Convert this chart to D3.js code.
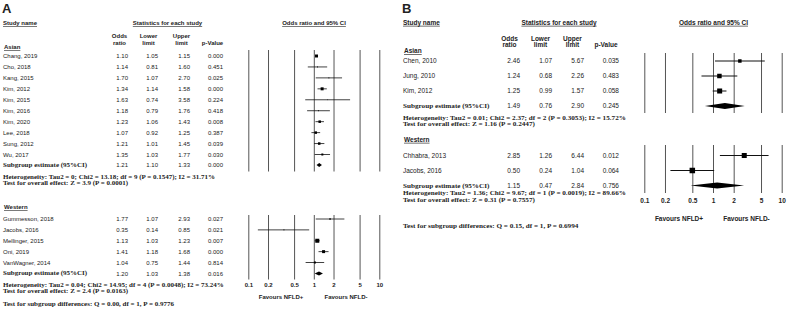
<!DOCTYPE html>
<html>
<head>
<meta charset="utf-8">
<script src="https://cdn.jsdelivr.net/npm/d3@7"></script>
<style>
  html, body { margin: 0; padding: 0; background: #fff; }
  svg { display: block; }
  .sans { font-family: "Liberation Sans", Arial, sans-serif; }
  .serif { font-family: "Liberation Serif", "Times New Roman", serif; font-weight: bold; }
</style>
</head>
<body>
<svg id="chart" width="787" height="316"></svg>
<script>
// ---- data: panel A ----
const aAsianStudies = ["Chang, 2019", "Cho, 2018", "Kang, 2015", "Kim, 2012", "Kim, 2015",
  "Kim, 2016", "Kim, 2020", "Lee, 2018", "Sung, 2012", "Wu, 2017"];
const aAsianOR = [1.10, 1.14, 1.70, 1.34, 1.63, 1.18, 1.23, 1.07, 1.21, 1.35];
const aAsianLower = [1.05, 0.81, 1.07, 1.14, 0.74, 0.79, 1.06, 0.92, 1.01, 1.03];
const aAsianUpper = [1.15, 1.60, 2.70, 1.58, 3.58, 1.76, 1.43, 1.25, 1.45, 1.77];
const aAsianP = ["0.000", "0.451", "0.025", "0.000", "0.224", "0.418", "0.008", "0.387", "0.039", "0.030"];
const aAsianWeight = [20, 2, 2, 20, 1, 2, 14, 14, 14, 9];
const aAsianSummary = [1.21, 1.10, 1.33, "0.000"];
const aAsianHet = "Heterogeneity: Tau2 = 0; Chi2 = 13.18; df = 9 (P = 0.1547); I2 = 31.71%";
const aAsianTest = "Test for overall effect: Z = 3.9 (P = 0.0001)";

const aWesternStudies = ["Gummesson, 2018", "Jacobs, 2016", "Mellinger, 2015", "Oni, 2019", "VanWagner, 2014"];
const aWesternOR = [1.77, 0.35, 1.13, 1.41, 1.04];
const aWesternLower = [1.07, 0.14, 1.03, 1.18, 0.75];
const aWesternUpper = [2.93, 0.85, 1.23, 1.68, 1.44];
const aWesternP = ["0.027", "0.021", "0.007", "0.000", "0.814"];
const aWesternWeight = [5, 2, 36, 20, 9];
const aWesternSummary = [1.20, 1.03, 1.38, "0.016"];
const aWesternHet = "Heterogeneity: Tau2 = 0.04; Chi2 = 14.95; df = 4 (P = 0.0048); I2 = 73.24%";
const aWesternTest = "Test for overall effect: Z = 2.4 (P = 0.0163)";
const aDiff = "Test for subgroup differences: Q = 0.00, df = 1, P = 0.9776";

// ---- data: panel B ----
const bAsianStudies = ["Chen, 2010", "Jung, 2010", "Kim, 2012"];
const bAsianOR = [2.46, 1.24, 1.25];
const bAsianLower = [1.07, 0.68, 0.99];
const bAsianUpper = [5.67, 2.26, 1.57];
const bAsianP = ["0.035", "0.483", "0.058"];
const bAsianWeight = [12, 20, 25];
const bAsianSummary = [1.49, 0.76, 2.90, "0.245"];
const bAsianHet = "Heterogeneity: Tau2 = 0.01; Chi2 = 2.37; df = 2 (P = 0.3053); I2 = 15.72%";
const bAsianTest = "Test for overall effect: Z = 1.16 (P = 0.2447)";

const bWesternStudies = ["Chhabra, 2013", "Jacobs, 2016"];
const bWesternOR = [2.85, 0.50];
const bWesternLower = [1.26, 0.24];
const bWesternUpper = [6.44, 1.04];
const bWesternP = ["0.012", "0.064"];
const bWesternWeight = [25, 30];
const bWesternSummary = [1.15, 0.47, 2.84, "0.756"];
const bWesternHet = "Heterogeneity: Tau2 = 1.36; Chi2 = 9.67; df = 1 (P = 0.0019); I2 = 89.66%";
const bWesternTest = "Test for overall effect: Z = 0.31 (P = 0.7557)";
const bDiff = "Test for subgroup differences: Q = 0.15, df = 1, P = 0.6994";

const groupNames = ["Asian", "Western"];
const tickValues = [0.1, 0.2, 0.5, 1, 2, 5, 10];
const colHeaders = [["Odds", "ratio"], ["Lower", "limit"], ["Upper", "limit"], ["", "p-Value"]];
const favourLabels = ["Favours NFLD+", "Favours NFLD-"];

function rowsOf(studies, or, lo, hi, p, w) {
  return studies.map((s, i) => ({ name: s, or: or[i], lo: lo[i], hi: hi[i], p: p[i], w: w[i] }));
}

const panels = [
  {
    letter: "A",
    groups: [
      { rows: rowsOf(aAsianStudies, aAsianOR, aAsianLower, aAsianUpper, aAsianP, aAsianWeight),
        summary: aAsianSummary, het: aAsianHet, test: aAsianTest },
      { rows: rowsOf(aWesternStudies, aWesternOR, aWesternLower, aWesternUpper, aWesternP, aWesternWeight),
        summary: aWesternSummary, het: aWesternHet, test: aWesternTest }
    ],
    diff: aDiff,
    layout: {
      left: 3, letterY: 13, fs: 6, serifFs: 5.6, serifStretch: 1.25, headY: 23, statsX: 167.5, forestTitleX: 314,
      colHeadX: [119.5, 148.5, 181.5, 212.5], colRight: [128, 158, 190, 223], headY1: 36, headY2: 43,
      xRange: [248.3, 379.3], sqMax: 4, sqW: 36, diamondH: 4.2, ciW: 0.8,
      grp: [
        { titleY: 47, rowY0: 56, rowY1: 154.5, sumY: 165, top: 50, bottom: 171.5, hetY: 176.8, testY: 182.6 },
        { titleY: 207, rowY0: 219, rowY1: 262.5, sumY: 273.5, top: 215, bottom: 279.5, hetY: 285.3, testY: 291.2 }
      ],
      diffY: 304, tickY: 286.5, favY: 297, favX: [281, 346]
    }
  },
  {
    letter: "B",
    groups: [
      { rows: rowsOf(bAsianStudies, bAsianOR, bAsianLower, bAsianUpper, bAsianP, bAsianWeight),
        summary: bAsianSummary, het: bAsianHet, test: bAsianTest },
      { rows: rowsOf(bWesternStudies, bWesternOR, bWesternLower, bWesternUpper, bWesternP, bWesternWeight),
        summary: bWesternSummary, het: bWesternHet, test: bWesternTest }
    ],
    diff: bDiff,
    layout: {
      left: 403, letterY: 13, fs: 6.5, serifFs: 5.8, serifStretch: 1.24, headY: 22.5, statsX: 559, forestTitleX: 713.5,
      colHeadX: [509.5, 540.5, 572.5, 606], colRight: [520, 552, 584, 619], headY1: 38.3, headY2: 45,
      xRange: [644.3, 781.7], sqMax: 5.5, sqW: 30, diamondH: 6, ciW: 1,
      grp: [
        { titleY: 51, rowY0: 61, rowY1: 91, sumY: 106, top: 53, bottom: 113, hetY: 118, testY: 124.3 },
        { titleY: 139.5, rowY0: 155.5, rowY1: 170.5, sumY: 185.5, top: 145, bottom: 193, hetY: 193.3, testY: 199.5 }
      ],
      diffY: 226, tickY: 202.5, favY: 218.5, favX: [679, 746.5]
    }
  }
];

const svg = d3.select("#chart");
const textColor = "#222";

function addText(g, x, y, str, opts = {}) {
  return g.append("text")
    .attr("class", "sans")
    .attr("x", x)
    .attr("y", y)
    .attr("dy", "0.35em")
    .attr("text-anchor", opts.anchor || "start")
    .attr("font-size", opts.size)
    .attr("font-weight", opts.bold ? "bold" : null)
    .attr("text-decoration", opts.underline ? "underline" : null)
    .attr("fill", textColor)
    .text(str);
}

// the serif notes are set in a wide face; stretch Liberation Serif horizontally to match
function addNote(g, x, y, str, L) {
  return g.append("text")
    .attr("class", "serif")
    .attr("transform", `translate(${x},${y}) scale(${L.serifStretch},1)`)
    .attr("dy", "0.35em")
    .attr("font-size", L.serifFs)
    .attr("fill", textColor)
    .text(str);
}

function drawPanel(panel) {
  const L = panel.layout;
  const g = svg.append("g");
  const x = d3.scaleLog().domain([0.1, 10]).range(L.xRange);
  const sq = d3.scaleSqrt().domain([0, L.sqW]).range([0, L.sqMax]);

  // titles and headers
  addText(g, L.left - 1, L.letterY - 4.5, panel.letter, { size: 13, bold: true });
  addText(g, L.left, L.headY, "Study name", { size: L.fs, bold: true, underline: true });
  addText(g, L.statsX, L.headY, "Statistics for each study", { size: L.fs, bold: true, underline: true, anchor: "middle" });
  addText(g, L.forestTitleX, L.headY, "Odds ratio and 95% CI", { size: L.fs, bold: true, underline: true, anchor: "middle" });
  colHeaders.forEach((h, i) => {
    addText(g, L.colHeadX[i], L.headY1, h[0], { size: L.fs, bold: true, anchor: "middle" });
    addText(g, L.colHeadX[i], L.headY2, h[1], { size: L.fs, bold: true, anchor: "middle" });
  });

  panel.groups.forEach((grp, gi) => {
    const GL = L.grp[gi];
    const y = d3.scalePoint()
      .domain(grp.rows.map((r) => r.name))
      .range([GL.rowY0, GL.rowY1]);

    addText(g, L.left + 1, GL.titleY, groupNames[gi], { size: L.fs, bold: true, underline: true });

    // vertical reference lines
    g.append("g")
      .attr("transform", `translate(0, ${GL.bottom})`)
      .call(d3.axisBottom(x).tickValues(tickValues).tickSize(-(GL.bottom - GL.top)).tickFormat(""))
      .call((a) => a.select(".domain").remove())
      .call((a) => a.selectAll(".tick line").attr("stroke", "#555").attr("stroke-width", 1));

    grp.rows.forEach((r) => {
      const yy = y(r.name);
      addText(g, L.left, yy, r.name, { size: L.fs });
      [r.or.toFixed(2), r.lo.toFixed(2), r.hi.toFixed(2), r.p].forEach((v, i) => {
        addText(g, L.colRight[i], yy, v, { size: L.fs, anchor: "end" });
      });
      g.append("line")
        .attr("x1", x(Math.max(r.lo, 0.1))).attr("x2", x(Math.min(r.hi, 10)))
        .attr("y1", yy).attr("y2", yy)
        .attr("stroke", "#111").attr("stroke-width", L.ciW);
      const s = sq(r.w);
      g.append("rect")
        .attr("x", x(r.or) - s / 2).attr("y", yy - s / 2)
        .attr("width", s).attr("height", s)
        .attr("fill", "#000");
    });

    // subgroup summary
    const [est, lo, hi, p] = grp.summary;
    addNote(g, L.left, GL.sumY, "Subgroup estimate (95%CI)", L);
    [est.toFixed(2), lo.toFixed(2), hi.toFixed(2), p].forEach((v, i) => {
      addText(g, L.colRight[i], GL.sumY, v, { size: L.fs, anchor: "end" });
    });
    const h = L.diamondH / 2;
    g.append("path")
      .attr("d", `M${x(lo)},${GL.sumY}L${x(est)},${GL.sumY - h}L${x(hi)},${GL.sumY}L${x(est)},${GL.sumY + h}Z`)
      .attr("fill", "#000");

    addNote(g, L.left, GL.hetY, grp.het, L);
    addNote(g, L.left, GL.testY, grp.test, L);
  });

  addNote(g, L.left, L.diffY, panel.diff, L);

  // tick labels
  g.append("g")
    .attr("transform", `translate(0, ${L.tickY - 4})`)
    .call(d3.axisBottom(x).tickValues(tickValues).tickSize(0).tickPadding(0).tickFormat((d) => String(d)))
    .call((a) => a.select(".domain").remove())
    .call((a) => a.selectAll("text")
      .attr("class", "sans").attr("font-size", L.fs).attr("font-weight", "bold")
      .attr("fill", textColor).attr("dy", "0.71em"));

  favourLabels.forEach((f, i) => {
    addText(g, L.favX[i], L.favY, f, { size: L.fs, bold: true, anchor: "middle" });
  });
}

panels.forEach(drawPanel);
</script>
</body>
</html>
